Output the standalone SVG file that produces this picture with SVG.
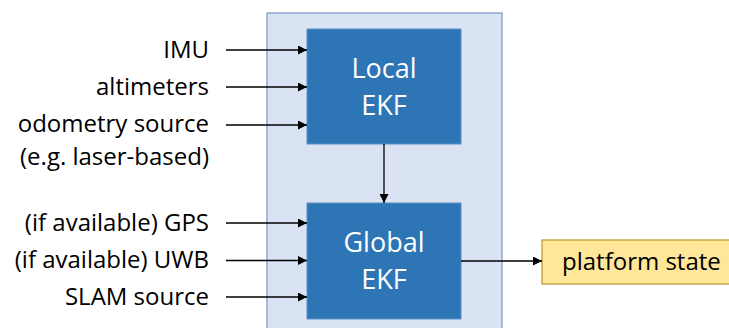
<svg xmlns="http://www.w3.org/2000/svg" width="729" height="328" viewBox="0 0 729 328">
<style>
.lbl{font-family:"Open Sans","Noto Sans",sans-serif;font-size:24px;fill:#000;}
.in{text-anchor:end;}
.box{fill:#2e75b6;stroke:#5b8fc7;stroke-width:1;}
.btxt{font-family:"Open Sans","Noto Sans",sans-serif;font-size:27px;fill:#fff;text-anchor:middle;}
.conn{stroke:#000;stroke-width:1.3;fill:none;marker-end:url(#ah);}
</style>
<defs>
<marker id="ah" viewBox="0 0 10 10" refX="10" refY="5" markerWidth="9" markerHeight="9" markerUnits="userSpaceOnUse" orient="auto">
<path d="M0,0 L10,5 L0,10 z" fill="#000"/>
</marker>
</defs>
<rect id="container" x="267" y="13" width="235" height="330" fill="#dae3f3" stroke="#7f9bcb" stroke-width="1.3"/>
<g id="inputs">
<text class="lbl in" x="209" y="57.5">IMU</text>
<text class="lbl in" x="209" y="94.5">altimeters</text>
<text class="lbl in" x="209" y="132">odometry source</text>
<text class="lbl in" x="209" y="165">(e.g. laser-based)</text>
<text class="lbl in" x="209" y="230.5">(if available) GPS</text>
<text class="lbl in" x="209" y="268">(if available) UWB</text>
<text class="lbl in" x="209" y="304.5">SLAM source</text>
</g>
<g id="local-ekf">
<rect class="box" x="307" y="29" width="154" height="115"/>
<text class="btxt" x="384" y="78">Local</text>
<text class="btxt" x="384" y="115">EKF</text>
</g>
<g id="global-ekf">
<rect class="box" x="307" y="203" width="154" height="116"/>
<text class="btxt" x="384" y="252">Global</text>
<text class="btxt" x="384" y="289">EKF</text>
</g>
<g id="platform-state">
<rect x="542" y="240" width="195" height="44" fill="#ffe699" stroke="#bf9c3c" stroke-width="1.3"/>
<text class="lbl" x="562" y="269.5">platform state</text>
</g>
<g id="connectors">
<line class="conn" x1="226" y1="50" x2="307" y2="50"/>
<line class="conn" x1="226" y1="87" x2="307" y2="87"/>
<line class="conn" x1="226" y1="125" x2="307" y2="125"/>
<line class="conn" x1="226" y1="223" x2="307" y2="223"/>
<line class="conn" x1="226" y1="260.5" x2="307" y2="260.5"/>
<line class="conn" x1="226" y1="297" x2="307" y2="297"/>
<line class="conn" x1="384" y1="144" x2="384" y2="203"/>
<line class="conn" x1="461" y1="261" x2="542" y2="261"/>
</g>
</svg>
